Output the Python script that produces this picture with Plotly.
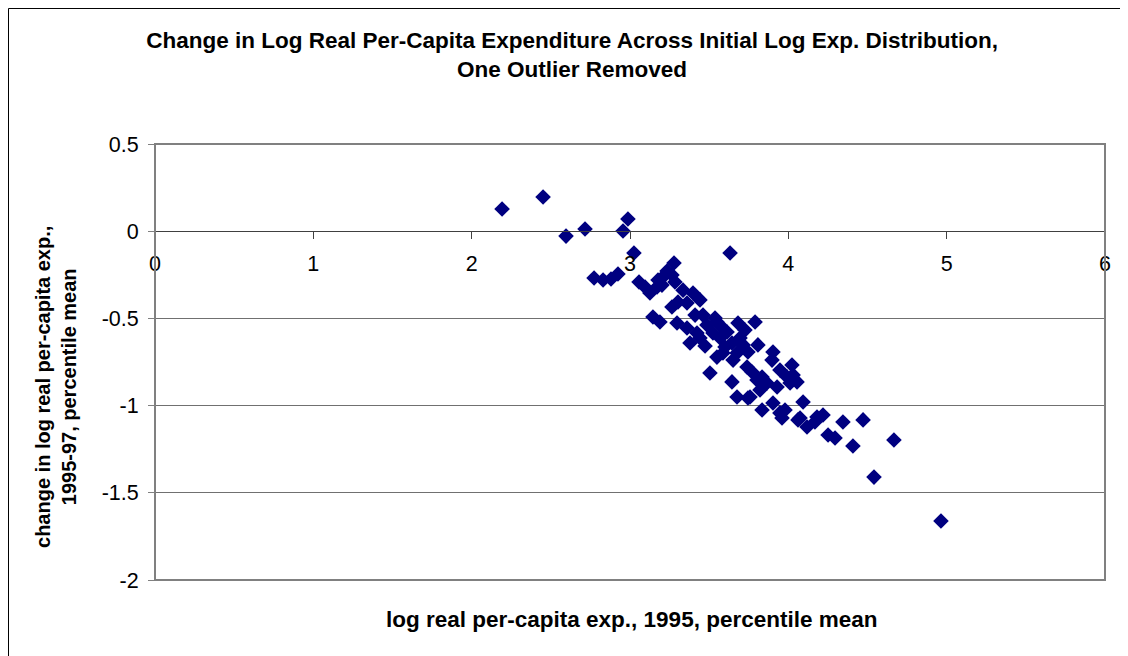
import plotly.graph_objects as go

# log real per-capita exp., 1995, percentile mean
x_vals = [
    2.192, 2.451, 2.596, 2.716, 2.987, 2.956, 3.025, 2.773, 2.830, 2.880,
    2.924, 3.278, 3.632, 3.057, 3.126, 3.177, 3.221, 3.265, 3.284, 3.171,
    3.145, 3.189, 3.398, 3.442, 3.265, 3.303, 3.360, 3.297, 3.360, 3.379,
    3.423, 3.461, 3.486, 3.537, 3.524, 3.569, 3.613, 3.682, 3.790, 3.600,
    3.644, 3.695, 3.676, 3.505, 3.549, 3.651, 3.739, 3.771, 3.802, 3.644,
    3.676, 3.808, 3.903, 3.897, 3.745, 3.821, 3.865, 3.929, 3.834, 3.947,
    3.979, 4.023, 4.030, 4.011, 4.061, 3.903, 4.055, 4.093, 4.074, 4.118,
    4.181, 4.219, 4.251, 4.295, 4.345, 4.472, 4.408, 4.541, 4.667, 4.964,
    3.992, 3.549, 3.587, 3.745, 3.834, 3.947, 3.758, 3.960, 4.168, 3.714,
    3.442, 3.202, 3.095, 3.234, 3.335, 3.474, 3.569, 3.411, 3.726,
]

# change in log real per-capita exp., 1995-97, percentile mean
y_vals = [
    0.127, 0.196, -0.028, 0.013, 0.070, 0.001, -0.125, -0.268, -0.280, -0.274,
    -0.245, -0.182, -0.125, -0.291, -0.354, -0.280, -0.251, -0.251, -0.291, -0.320,
    -0.492, -0.521, -0.354, -0.394, -0.435, -0.406, -0.412, -0.526, -0.555, -0.641,
    -0.584, -0.481, -0.538, -0.498, -0.584, -0.612, -0.578, -0.526, -0.521, -0.664,
    -0.641, -0.612, -0.698, -0.813, -0.722, -0.739, -0.779, -0.807, -0.853, -0.864,
    -0.951, -0.652, -0.693, -0.739, -0.956, -0.910, -0.870, -0.893, -1.025, -1.042,
    -1.025, -0.767, -0.825, -0.870, -1.082, -0.985, -0.864, -0.979, -1.071, -1.123,
    -1.065, -1.054, -1.169, -1.186, -1.094, -1.082, -1.232, -1.410, -1.197, -1.662,
    -0.836, -0.521, -0.698, -0.693, -0.836, -0.796, -0.951, -1.071, -1.094, -0.652,
    -0.612, -0.309, -0.320, -0.228, -0.338, -0.658, -0.539, -0.481, -0.567,
]

x_ticks = [0, 1, 2, 3, 4, 5, 6]
x_tick_labels = ["0", "1", "2", "3", "4", "5", "6"]
y_ticks = [0.5, 0, -0.5, -1, -1.5, -2]
y_tick_labels = ["0.5", "0", "-0.5", "-1", "-1.5", "-2"]

title_text = ("Change in Log Real Per-Capita Expenditure Across Initial Log Exp. Distribution,"
              "<br>One Outlier Removed")
x_title = "log real per-capita exp., 1995, percentile mean"
y_title = "change in log real per-capita exp.,<br>1995-97, percentile mean"

FONT = "Arial, Liberation Sans, sans-serif"

fig = go.Figure()
fig.add_trace(go.Scatter(
    x=x_vals, y=y_vals, mode="markers",
    marker=dict(symbol="diamond", size=12, color="#000080", line=dict(width=0)),
    showlegend=False, hoverinfo="x+y",
))

fig.update_layout(
    width=1120, height=648,
    margin=dict(l=147, r=23, t=136, b=76),
    paper_bgcolor="white", plot_bgcolor="white",
    font=dict(family=FONT, color="black"),
    title=dict(text="<b>" + title_text + "</b>", x=0.5036, xref="container", xanchor="center",
               y=1 - 40 / 648, yref="container", yanchor="top",
               font=dict(size=22.5, family=FONT, color="black")),
    xaxis=dict(range=[0, 6], tickvals=x_ticks, ticktext=x_tick_labels,
               anchor="free", position=0.8, showgrid=False, zeroline=False,
               showline=True, linecolor="#404040", linewidth=1,
               ticks="outside", ticklen=7, tickcolor="#404040",
               ticklabelstandoff=6,
               tickfont=dict(size=21.5, family=FONT, color="black")),
    yaxis=dict(range=[-2, 0.5], tickvals=y_ticks, ticktext=y_tick_labels,
               showgrid=True, gridcolor="#707070", gridwidth=1, zeroline=False,
               showline=False, ticks="outside", ticklen=6, tickcolor="#808080",
               ticklabelstandoff=5,
               tickfont=dict(size=21.5, family=FONT, color="black")),
    shapes=[
        # plot-area frame
        dict(type="rect", xref="paper", yref="paper", x0=0, y0=0, x1=1, y1=1,
             line=dict(color="#808080", width=2), layer="above"),
        # outer chart frame
        dict(type="rect", xref="paper", yref="paper", x0=-0.1542, y0=-0.4, x1=1.2, y1=1.3108,
             line=dict(color="black", width=1), layer="above"),
    ],
    annotations=[
        dict(text="<b>" + x_title + "</b>", xref="paper", yref="paper", x=0.5016, y=-0.0917,
             xanchor="center", yanchor="middle", showarrow=False,
             font=dict(size=22.5, family=FONT, color="black")),
        dict(text="<b>" + y_title + "</b>", xref="paper", yref="paper", x=-0.1042, y=0.4427,
             xanchor="center", yanchor="middle", showarrow=False, textangle=-90,
             font=dict(size=20, family=FONT, color="black")),
    ],
)

fig.write_html("out.html")
